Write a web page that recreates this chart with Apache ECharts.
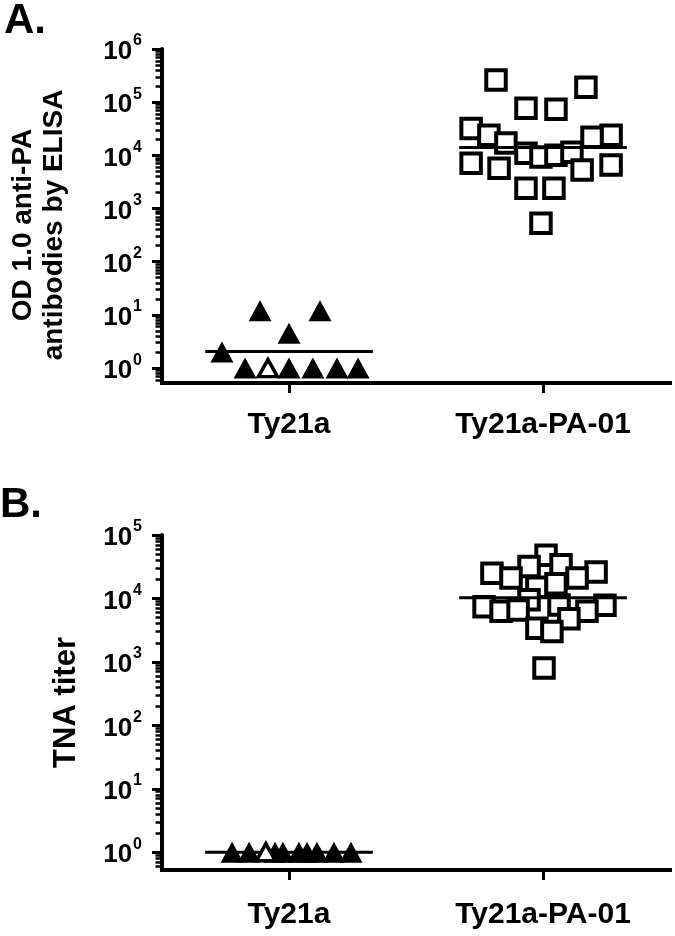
<!DOCTYPE html>
<html><head><meta charset="utf-8">
<script src="https://cdn.jsdelivr.net/npm/echarts@6/dist/echarts.min.js"></script>
<style>html,body{margin:0;padding:0;background:#fff}#c{width:675px;height:936px}</style>
</head><body><div id="c"></div>
<script>
// ---------- DATA ----------
const groups = ['Ty21a', 'Ty21a-PA-01'];

// Panel A: OD 1.0 anti-PA antibodies by ELISA
const elisaTy21a = [2, 12, 12, 4.5, 1, 1, 1, 1, 1, 1];
const elisaTy21aSpread = [-0.264, -0.114, 0.122, 0.0, -0.173, -0.083, 0.0, 0.094, 0.189, 0.272];
const elisaTy21aOpen = [5];
const elisaPA = [260000, 190000, 77000, 74000, 32000, 24000, 17000, 24000, 22000, 7100,
                 5700, 11000, 9300, 10000, 11500, 5300, 6600, 2400, 2400, 530];
const elisaPASpread = [-0.185, 0.169, -0.067, 0.051, -0.283, -0.213, -0.146, 0.268, 0.193, -0.283,
                       -0.173, -0.067, -0.008, 0.051, 0.114, 0.154, 0.268, -0.067, 0.043, -0.008];

// Panel B: TNA titer
const tnaTy21a = [1, 1, 1, 1, 1, 1, 1, 1, 1, 1];
const tnaTy21aSpread = [-0.224, -0.157, -0.091, -0.055, -0.024, 0.039, 0.071, 0.110, 0.177, 0.244];
const tnaTy21aOpen = [2];
const tnaPA = [48000, 25000, 32000, 34000, 26000, 21000, 21000, 15000, 17000, 7400,
               6300, 9500, 7900, 7800, 6300, 6600, 4800, 3400, 3000, 800];
const tnaPASpread = [0.012, -0.201, -0.055, 0.071, 0.209, -0.126, 0.134, -0.024, 0.051, -0.232,
                     -0.165, -0.055, 0.063, 0.244, 0.173, -0.098, 0.102, -0.024, 0.035, 0.004];

const elisaDecades = [0, 1, 2, 3, 4, 5, 6];
const tnaDecades = [0, 1, 2, 3, 4, 5];
const panelTitles = ['OD 1.0 anti-PA\nantibodies by ELISA', 'TNA titer'];
const panelLetters = ['A.', 'B.'];

// ---------- BUILD ----------
const F = '"Liberation Sans", Arial, Helvetica, sans-serif';
const centers = [0.5, 1.5];
const lg = v => Math.log10(v);
const yMin = -0.28;
const halfMean = 0.33;

function minorTicks(maxDec) {
  const out = [];
  for (let n = -1; n < maxDec; n++) {
    for (let k = 2; k <= 9; k++) {
      const p = n + lg(k);
      if (p > yMin && p < maxDec) out.push(p);
    }
  }
  return out;
}
function points(vals, spread, center, filterFn) {
  const out = [];
  vals.forEach((v, i) => { if (filterFn(i)) out.push([center + spread[i], lg(v)]); });
  return out;
}
function geoMean(vals) {
  return vals.reduce((s, v) => s + lg(v), 0) / vals.length;
}

const grids = [
  {left: 162, top: 49, width: 508, height: 334},
  {left: 162, top: 535, width: 508, height: 335}
];
const decadesList = [elisaDecades, tnaDecades];
const labelMargins = [27, 30];
const nameGaps = [92, 80];
const nameSizes = [28, 31];
const namePads = [[0, 18, 0, 0], [0, 0, 0, 0]];

const xAxes = [], yAxes = [], series = [];
grids.forEach((g, gi) => {
  const decs = decadesList[gi];
  const maxDec = decs[decs.length - 1];
  xAxes.push({
    type: 'value', gridIndex: gi, min: 0, max: 2, position: 'bottom',
    axisLine: {show: true, onZero: false, lineStyle: {color: '#000', width: 4, cap: 'square'}},
    axisTick: {show: true, inside: false, length: 10, customValues: centers, lineStyle: {color: '#000', width: 3}},
    axisLabel: {customValues: centers, formatter: v => groups[Math.floor(v)], margin: labelMargins[gi],
      fontSize: 30, fontWeight: 'bold', fontFamily: F, color: '#000'},
    splitLine: {show: false}
  });
  // minor ticks axis first (drawn under the main axis line)
  yAxes.push({
    type: 'value', gridIndex: gi, min: yMin, max: maxDec, position: 'left', offset: 0,
    axisLine: {show: true, onZero: false, lineStyle: {color: 'rgba(0,0,0,0)', width: 1}},
    axisTick: {show: true, inside: false, length: 6.5, customValues: minorTicks(maxDec), lineStyle: {color: '#000', width: 2.5}},
    axisLabel: {show: false},
    splitLine: {show: false}
  });
  yAxes.push({
    type: 'value', gridIndex: gi, min: yMin, max: maxDec, position: 'left', offset: 0,
    name: panelTitles[gi], nameLocation: 'middle', nameRotate: 90, nameGap: nameGaps[gi],
    nameTextStyle: {fontSize: nameSizes[gi], fontWeight: 'bold', fontFamily: F, color: '#000',
      lineHeight: 31, padding: namePads[gi]},
    axisLine: {show: true, onZero: false, lineStyle: {color: '#000', width: 4}},
    axisTick: {show: true, inside: false, length: 10, customValues: decs, lineStyle: {color: '#000', width: 3}},
    axisLabel: {customValues: decs, margin: 20,
      formatter: v => '{b|10}{s|' + Math.round(v) + '}',
      rich: {
        b: {fontSize: 26, fontWeight: 'bold', fontFamily: F, color: '#000', lineHeight: 32, verticalAlign: 'bottom'},
        s: {fontSize: 16, fontWeight: 'bold', fontFamily: F, color: '#000', lineHeight: 17, verticalAlign: 'top', padding: [0, 0, 0, 1]}
      }},
    splitLine: {show: false}
  });
});

const panels = [
  {tri: elisaTy21a, triS: elisaTy21aSpread, open: elisaTy21aOpen, sq: elisaPA, sqS: elisaPASpread},
  {tri: tnaTy21a, triS: tnaTy21aSpread, open: tnaTy21aOpen, sq: tnaPA, sqS: tnaPASpread}
];
panels.forEach((p, gi) => {
  const yi = gi * 2 + 1;
  series.push({
    type: 'scatter', xAxisIndex: gi, yAxisIndex: yi, symbol: 'rect', symbolSize: 19.5,
    itemStyle: {color: '#fff', borderColor: '#000', borderWidth: 4, opacity: 1},
    data: points(p.sq, p.sqS, centers[1], () => true), z: 2
  });
  [[p.tri, centers[0]], [p.sq, centers[1]]].forEach(([vals, c]) => {
    const m = geoMean(vals);
    series.push({
      type: 'line', xAxisIndex: gi, yAxisIndex: yi, showSymbol: false, symbol: 'none',
      lineStyle: {color: '#000', width: 3, opacity: 1}, data: [[c - halfMean, m], [c + halfMean, m]], z: 3
    });
  });
  series.push({
    type: 'scatter', xAxisIndex: gi, yAxisIndex: yi, symbol: 'triangle', symbolSize: [23, 21],
    itemStyle: {color: '#000', opacity: 1},
    data: points(p.tri, p.triS, centers[0], i => p.open.indexOf(i) < 0), z: 4
  });
  series.push({
    type: 'scatter', xAxisIndex: gi, yAxisIndex: yi, symbol: 'triangle', symbolSize: [19, 17],
    itemStyle: {color: '#fff', borderColor: '#000', borderWidth: 3.5, opacity: 1},
    data: points(p.tri, p.triS, centers[0], i => p.open.indexOf(i) >= 0), z: 5
  });
});

const chart = echarts.init(document.getElementById('c'), null, {renderer: 'canvas'});
chart.setOption({
  animation: false,
  backgroundColor: '#fff',
  grid: grids,
  xAxis: xAxes,
  yAxis: yAxes,
  series: series,
  graphic: [
    {type: 'text', left: 4, top: 0, style: {text: panelLetters[0], font: 'bold 42px ' + F, fill: '#000'}},
    {type: 'text', left: 0, top: 484, style: {text: panelLetters[1], font: 'bold 42px ' + F, fill: '#000'}}
  ]
});
</script>
</body></html>
